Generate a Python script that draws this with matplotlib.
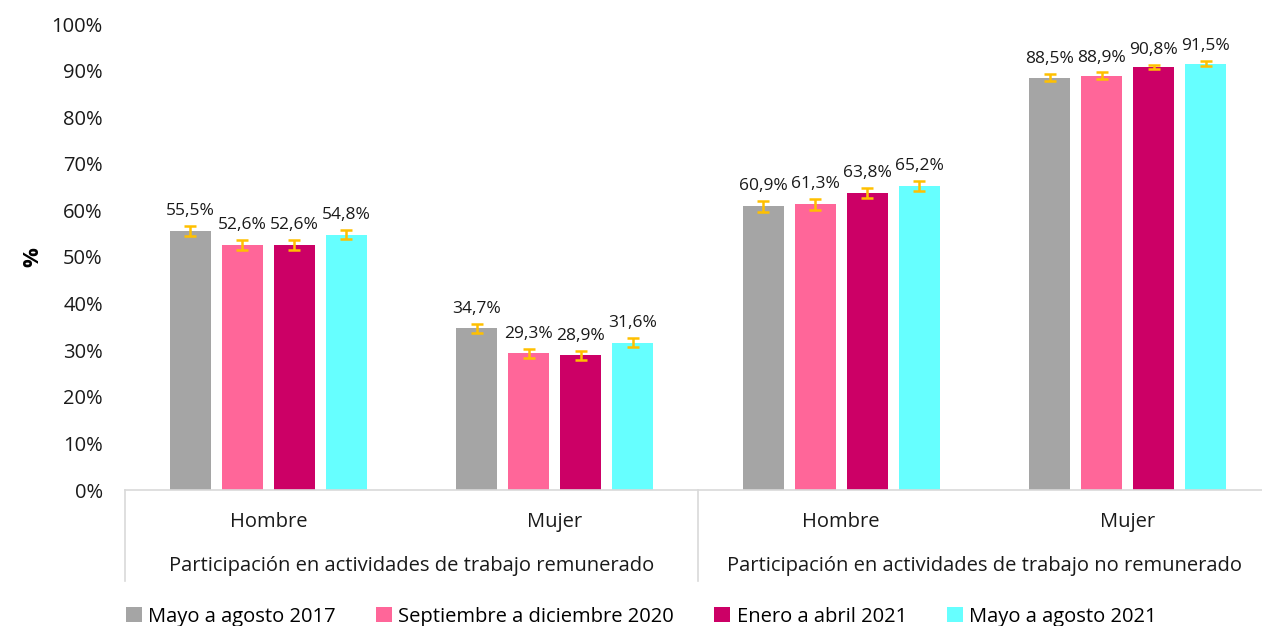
import numpy as np
import matplotlib.pyplot as plt
from matplotlib.transforms import blended_transform_factory

plt.rcParams['font.family'] = ['Open Sans', 'DejaVu Sans']

categorias = ['Hombre', 'Mujer', 'Hombre', 'Mujer']
grupos = ['Participación en actividades de trabajo remunerado',
          'Participación en actividades de trabajo no remunerado']
series = ['Mayo a agosto 2017', 'Septiembre a diciembre 2020',
          'Enero a abril 2021', 'Mayo a agosto 2021']
colores = ['#A5A5A5', '#FF6699', '#CC0066', '#66FFFF']

may_2017 = [55.5, 34.7, 60.9, 88.5]
sep_2020 = [52.6, 29.3, 61.3, 88.9]
ene_2021 = [52.6, 28.9, 63.8, 90.8]
may_2021 = [54.8, 31.6, 65.2, 91.5]
valores = [may_2017, sep_2020, ene_2021, may_2021]

# margen de error (aprox.)
err_2017 = [1.1, 1.0, 1.2, 0.8]
err_2020 = [1.0, 0.9, 1.2, 0.7]
err_ene21 = [1.0, 0.9, 1.1, 0.5]
err_may21 = [1.0, 1.0, 1.1, 0.6]
errores = [err_2017, err_2020, err_ene21, err_may21]

fig = plt.figure(figsize=(12.62, 6.26), dpi=100)
ax = fig.add_axes([125 / 1262, 136 / 626, 1146 / 1262, 466 / 626])

x = np.arange(len(categorias))
ancho = 0.143
paso = 0.181
for i, (vals, errs) in enumerate(zip(valores, errores)):
    pos = x + (i - 1.5) * paso
    ax.bar(pos, vals, ancho, color=colores[i], label=series[i], zorder=2)
    ax.errorbar(pos, vals, yerr=errs, fmt='none', ecolor='#FFC000',
                elinewidth=1.8, capsize=4.5, capthick=1.8, zorder=3)
    for p, v, e in zip(pos, vals, errs):
        ax.annotate(f'{v:.1f}%'.replace('.', ','), (p, v + e),
                    xytext=(0, 5), textcoords='offset points',
                    ha='center', va='bottom', fontsize=12.5, color='#1a1a1a')

ax.set_xlim(-0.5, 3.5)
ax.set_ylim(0, 100)
ax.set_yticks(np.arange(0, 101, 10))
ax.set_yticklabels([f'{t}%' for t in range(0, 101, 10)])
ax.tick_params(axis='y', length=0, labelsize=14.5, pad=16, colors='#1a1a1a')
ax.set_xticks(x)
ax.set_xticklabels(categorias)
ax.tick_params(axis='x', length=0, labelsize=14.5, pad=16, colors='#1a1a1a')
for s in ['top', 'right', 'left']:
    ax.spines[s].set_visible(False)
ax.spines['bottom'].set_color('#D9D9D9')
ax.spines['bottom'].set_linewidth(1.2)

ax.set_ylabel('%', fontsize=16, fontweight='bold', labelpad=6)

# separadores de grupos y etiquetas de grupo
tr = blended_transform_factory(ax.transData, ax.transAxes)
for xs in [-0.5, 1.5]:
    ax.plot([xs, xs], [0, -0.195], transform=tr, color='#D9D9D9',
            linewidth=1.2, clip_on=False)
for j, g in enumerate(grupos):
    ax.text(0.5 + 2 * j, -0.164, g, transform=tr, ha='center', va='center',
            fontsize=14.5, color='#1a1a1a')

fig.legend(loc='lower left', bbox_to_anchor=(108 / 1262, -0.03), ncol=4,
           frameon=False, fontsize=14.5, handlelength=0.8, handleheight=0.8,
           handletextpad=0.3, columnspacing=2.0)

fig.savefig('out.png', dpi=100)
